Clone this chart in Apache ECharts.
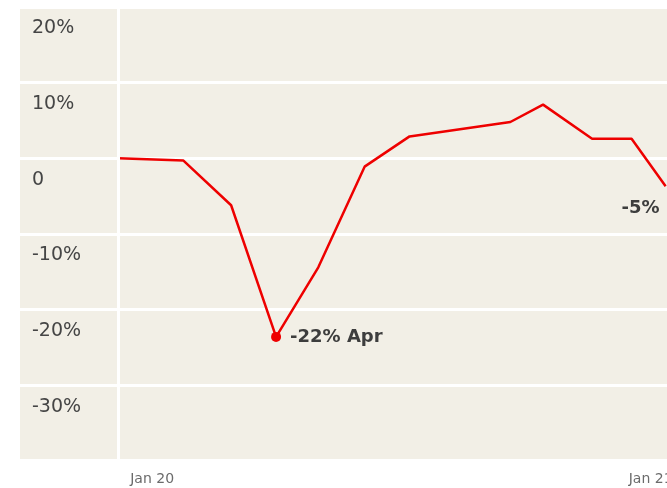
<!DOCTYPE html>
<html>
<head>
<meta charset="utf-8">
<script src="https://cdn.jsdelivr.net/npm/echarts@6/dist/echarts.min.js"></script>
<style>
  html, body { margin: 0; padding: 0; background: #fff; }
  #chart { width: 667px; height: 488px; }
</style>
</head>
<body>
<div id="chart"></div>
<script>
// change since start, %
const dates = ['2019-12-07', '2020-01-24', '2020-02-28', '2020-04-01', '2020-05-02', '2020-06-05',
  '2020-07-08', '2020-09-20', '2020-10-14', '2020-11-19', '2020-12-18', '2021-01-12']
const values = [0, -0.3, -6.2, -23.6, -14.4, -1.1, 2.9, 4.8, 7.1, 2.6, 2.6, -3.7]
const xTicks = ['2020-01-01', '2021-01-01']
const xTickLabels = ['Jan 20', 'Jan 21']
const yTickLabels = { 20: '20%', 10: '10%', 0: '0', '-10': '-10%', '-20': '-20%', '-30': '-30%' }
const lowIndex = 3
const lowLabel = '-22% Apr'
const lastLabel = '-5%'

const chart = echarts.init(document.getElementById('chart'))
const font = 'DejaVu Sans'
const red = '#ee0000'
const ts = (d) => Date.UTC(+d.slice(0, 4), +d.slice(5, 7) - 1, +d.slice(8, 10))
const tickTs = xTicks.map(ts)

const seriesData = dates.map((d, i) => {
  const item = { value: [ts(d), values[i]] }
  if (i === lowIndex) {
    item.symbol = 'circle'
    item.symbolSize = 10
    item.label = {
      show: true, position: 'right', distance: 9,
      formatter: lowLabel, fontFamily: font, fontSize: 18, fontWeight: 'bold', color: '#3d3d3d'
    }
  }
  if (i === dates.length - 1) {
    item.symbol = 'circle'
    item.symbolSize = 0.01
    item.label = {
      show: true, position: 'left', distance: 6, offset: [0, 22],
      formatter: lastLabel, fontFamily: font, fontSize: 18, fontWeight: 'bold', color: '#3d3d3d'
    }
  }
  return item
})

const option = {
  animation: false,
  graphic: [{
    type: 'rect', left: 20, top: 9, z: -10,
    shape: { width: 647, height: 450 },
    style: { fill: '#f2efe6' }
  }],
  grid: { left: 20, right: 0, top: 7, bottom: 27, outerBoundsMode: 'none', containLabel: false },
  xAxis: {
    type: 'value',
    min: ts('2019-09-26'),
    max: ts('2021-01-13'),
    axisLine: { show: false },
    axisTick: { show: false },
    splitLine: { show: false },
    axisLabel: {
      customValues: tickTs,
      formatter: (v) => xTickLabels[tickTs.indexOf(v)] || '',
      margin: 11, fontFamily: font, fontSize: 14, color: '#6b6b6b'
    }
  },
  yAxis: {
    type: 'value',
    min: -40, max: 20, interval: 10,
    axisLine: { show: false },
    axisTick: { show: false },
    splitLine: { lineStyle: { color: '#ffffff', width: 3 } },
    axisLabel: {
      inside: true, margin: 12, showMinLabel: false,
      verticalAlign: 'top', padding: [12, 0, 0, 0],
      formatter: (v) => yTickLabels[v] || '',
      fontFamily: font, fontSize: 19, color: '#454545'
    }
  },
  series: [{
    type: 'line',
    data: seriesData,
    symbol: 'none',
    showSymbol: true,
    itemStyle: { color: red },
    lineStyle: { color: red, width: 2.5 },
    markLine: {
      silent: true, symbol: 'none',
      label: { show: false },
      lineStyle: { color: '#ffffff', width: 3, type: 'solid' },
      data: [{ xAxis: ts(dates[0]) }]
    },
    z: 3
  }]
}

chart.setOption(option)
</script>
</body>
</html>
